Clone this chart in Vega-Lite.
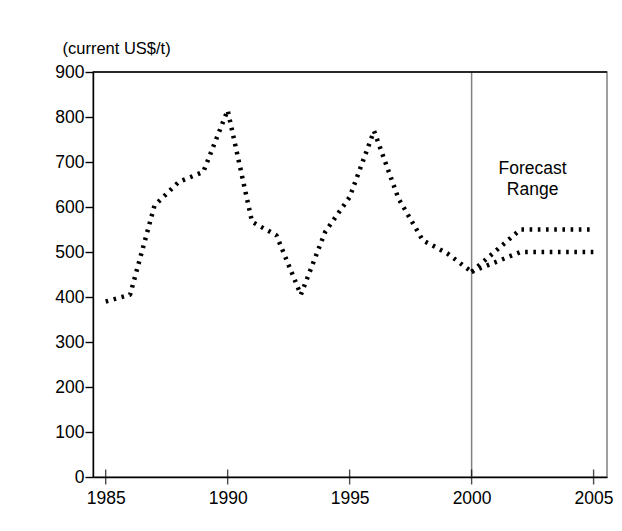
{
  "$schema": "https://vega.github.io/schema/vega-lite/v6.json",
  "width": 514,
  "height": 405,
  "autosize": {"type": "none"},
  "padding": {"left": 93, "top": 72, "right": 15, "bottom": 54},
  "background": "white",
  "config": {
    "font": "Liberation Sans",
    "view": {"stroke": "#808080", "strokeWidth": 1.5},
    "axis": {"labelFont": "Liberation Sans", "titleFont": "Liberation Sans", "labelColor": "black", "titleColor": "black", "domainColor": "black", "tickColor": "black", "domainWidth": 1.4, "tickWidth": 1.4, "grid": false}
  },
  "datasets": {
    "series": [
      {"year": 1985, "value": 390, "series": "hist"},
      {"year": 1986, "value": 405, "series": "hist"},
      {"year": 1987, "value": 603, "series": "hist"},
      {"year": 1988, "value": 656, "series": "hist"},
      {"year": 1989, "value": 678, "series": "hist"},
      {"year": 1990, "value": 815, "series": "hist"},
      {"year": 1991, "value": 567, "series": "hist"},
      {"year": 1992, "value": 537, "series": "hist"},
      {"year": 1993, "value": 405, "series": "hist"},
      {"year": 1994, "value": 545, "series": "hist"},
      {"year": 1995, "value": 622, "series": "hist"},
      {"year": 1996, "value": 769, "series": "hist"},
      {"year": 1997, "value": 619, "series": "hist"},
      {"year": 1998, "value": 526, "series": "hist"},
      {"year": 1999, "value": 497, "series": "hist"},
      {"year": 2000, "value": 456, "series": "hist"},
      {"year": 2000, "value": 456, "series": "high"},
      {"year": 2002, "value": 550, "series": "high"},
      {"year": 2005, "value": 550, "series": "high"},
      {"year": 2000, "value": 456, "series": "low"},
      {"year": 2002, "value": 500, "series": "low"},
      {"year": 2005, "value": 500, "series": "low"}
    ],
    "ticks": [{"year": 1985}, {"year": 1990}, {"year": 1995}, {"year": 2000}, {"year": 2005}],
    "note": [{"label": "Forecast\nRange"}]
  },
  "layer": [
    {
      "data": {"name": "ticks"},
      "mark": {"type": "rule", "color": "#808080", "strokeWidth": 1.5},
      "transform": [{"filter": "datum.year == 2000"}],
      "encoding": {"x": {"field": "year", "type": "quantitative"}}
    },
    {
      "data": {"name": "note"},
      "mark": {"type": "rule", "color": "black", "strokeWidth": 1.4},
      "encoding": {"y": {"datum": 900, "type": "quantitative"}}
    },
    {
      "data": {"name": "series"},
      "mark": {"type": "line", "strokeWidth": 4.5, "strokeDash": [2.6, 5.6], "strokeCap": "butt", "strokeJoin": "bevel", "color": "black"},
      "encoding": {
        "x": {
          "field": "year", "type": "quantitative",
          "scale": {"domain": [1984.48, 2005.55], "nice": false, "zero": false},
          "axis": {"values": [1985, 1990, 1995, 2000, 2005], "format": "d", "ticks": false, "labelFontSize": 17.5, "labelPadding": 12, "title": null}
        },
        "y": {
          "field": "value", "type": "quantitative",
          "scale": {"domain": [0, 900], "nice": false},
          "axis": {"values": [0, 100, 200, 300, 400, 500, 600, 700, 800, 900], "tickSize": 8, "labelPadding": 1, "labelFontSize": 17.5,
            "title": "(current US$/t)", "titleAngle": 0, "titleAlign": "left", "titleBaseline": "middle", "titleX": -31, "titleY": -24, "titleFontSize": 16.5, "titleFontWeight": "normal"}
        },
        "detail": {"field": "series", "type": "nominal"}
      }
    },
    {
      "data": {"name": "ticks"},
      "mark": {"type": "tick", "orient": "vertical", "color": "black", "thickness": 1.4, "size": 15},
      "encoding": {
        "x": {"field": "year", "type": "quantitative"},
        "y": {"datum": 0, "type": "quantitative"}
      }
    },
    {
      "data": {"name": "note"},
      "mark": {"type": "text", "fontSize": 17.5, "lineHeight": 21, "align": "center", "baseline": "middle", "color": "black", "lineBreak": "\n"},
      "encoding": {
        "x": {"datum": 2002.5, "type": "quantitative"},
        "y": {"datum": 684, "type": "quantitative"},
        "text": {"field": "label", "type": "nominal"}
      }
    }
  ]
}
